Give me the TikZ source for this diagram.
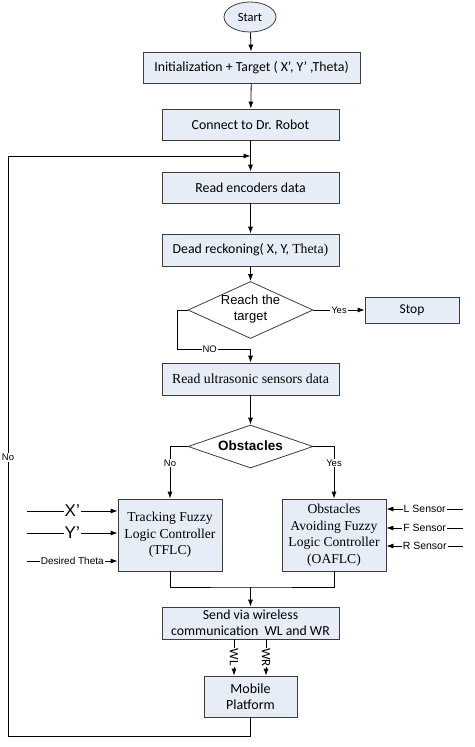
\documentclass[tikz,border=0pt]{standalone}
\usepackage{fontspec}
\setmainfont{Carlito}
\newfontfamily\tnr{Liberation Serif}
\newfontfamily\ari{Liberation Sans}
\usetikzlibrary{shapes.geometric,arrows.meta}
\definecolor{boxfill}{RGB}{231,237,247}
\definecolor{edge}{RGB}{60,60,60}
\begin{document}
\begin{tikzpicture}[x=1pt,y=-1pt,
  box/.style={draw=edge, fill=boxfill, line width=0.8pt, inner sep=0pt, align=center,
              font=\fontsize{13.8}{16}\selectfont},
  serifbox/.style={box, font=\tnr\fontsize{13.6}{16.5}\selectfont},
  dia/.style={diamond, draw=edge, fill=white, line width=0.8pt, inner sep=0pt},
  arr/.style={-{Latex[length=7pt,width=5pt]}, line width=0.8pt, draw=black},
  ln/.style={line width=0.8pt, draw=black},
  lbl/.style={fill=white, inner sep=1pt, font=\ari\fontsize{9.5}{10}\selectfont},
  slbl/.style={fill=white, inner sep=1pt, font=\ari\fontsize{10.5}{12}\selectfont},
  blbl/.style={fill=white, inner sep=1pt, font=\ari\fontsize{17}{18}\selectfont}
]
\useasboundingbox (0,0) rectangle (474,747);

\node[ellipse, draw=edge, fill=boxfill, line width=0.8pt, minimum width=52, minimum height=30, inner sep=0pt,
      font=\fontsize{12.5}{14}\selectfont] (start) at (250,17) {Start};
\node[box, minimum width=217, minimum height=31] (init) at (251.5,67.5) {Initialization + Target ( X’, Y’ ,Theta)};
\node[box, minimum width=177, minimum height=31] (conn) at (250.5,124.5) {Connect to Dr. Robot};
\node[box, minimum width=177, minimum height=31] (enc) at (250.5,187.5) {Read encoders data};
\node[box, minimum width=177, minimum height=32] (dead) at (250.5,250) {Dead reckoning( X, Y, {\tnr Theta)}};
\node[dia, minimum width=125, minimum height=57] (reach) at (250.5,310) {};
\node[align=center, font=\ari\fontsize{13}{16}\selectfont] (reacht) at (250.5,309) {Reach the\\target};
\node[box, minimum width=94, minimum height=26, font=\fontsize{13.5}{15}\selectfont] (stop) at (412,310) {Stop};
\node[box, minimum width=177, minimum height=32, font=\tnr\fontsize{13.8}{15}\selectfont] (ultra) at (250.5,379) {Read ultrasonic sensors data};
\node[dia, minimum width=125, minimum height=43] (obst) at (250.5,446.5) {};
\node[font=\ari\bfseries\fontsize{13.5}{15}\selectfont] (obstt) at (250.5,446) {Obstacles};
\node[serifbox, minimum width=104, minimum height=72] (tflc) at (170,535) {Tracking Fuzzy\\Logic Controller\\(TFLC)};
\node[serifbox, minimum width=104, minimum height=72] (oaflc) at (334,535) {Obstacles\\Avoiding Fuzzy\\Logic Controller\\(OAFLC)};
\node[box, minimum width=177, minimum height=32, font=\fontsize{13.8}{16}\selectfont] (send) at (250.5,623) {Send via wireless\\communication\ \ WL and WR};
\node[box, minimum width=93, minimum height=41, font=\fontsize{14}{16}\selectfont] (mob) at (250.5,696.5) {Mobile\\Platform};

\coordinate (loop) at (250.5,156);
\coordinate (nojoin) at (250.5,349);
\coordinate (merge) at (250.5,587);
\coordinate (botl) at (8,736);
\coordinate (xin) at (27,511);
\coordinate (yin) at (27,533);
\coordinate (thin) at (27,561);
\coordinate (lin) at (463,509);
\coordinate (fin) at (463,528);
\coordinate (rin) at (463,546);

\draw[arr] (start) -- (init);
\draw[arr] (init) -- (conn);
\draw[arr] (conn) -- (enc);
\draw[arr] (enc) -- (dead);
\draw[arr] (dead) -- (reach);
\draw[arr] (reach) -- node[lbl]{Yes} (stop);
\draw[arr] (reach.west) -- ++(-10,0) |- node[lbl, pos=0.72]{NO} (nojoin) -- (ultra.north);
\draw[arr] (ultra) -- (obst);
\draw[arr] (obst.west) -| node[lbl, pos=0.66]{No} (tflc.north);
\draw[arr] (obst.east) -| node[lbl, pos=0.66]{Yes} (oaflc.north);
\draw[ln] (tflc.south) |- (merge) -| (oaflc.south);
\draw[arr] (merge) -- (send.north);
\draw[arr] (send.south -| 234,0) -- node[lbl, rotate=-90, font=\fontsize{13}{13}\selectfont, inner sep=0.5pt]{WL} (mob.north -| 234,0);
\draw[arr] (send.south -| 266,0) -- node[lbl, rotate=-90, font=\fontsize{13}{13}\selectfont, inner sep=0.5pt]{WR} (mob.north -| 266,0);
\draw[arr] (mob.south) |- (botl) -- node[lbl, pos=0.48]{No} (botl |- loop) -- (loop);

\draw[arr] (xin) -- node[blbl]{X’} (tflc.west |- xin);
\draw[arr] (yin) -- node[blbl]{Y’} (tflc.west |- yin);
\draw[arr] (thin) -- node[lbl, font=\ari\fontsize{10}{11}\selectfont]{Desired Theta} (tflc.west |- thin);
\draw[arr] (lin) -- node[slbl]{L Sensor} (oaflc.east |- lin);
\draw[arr] (fin) -- node[slbl]{F Sensor} (oaflc.east |- fin);
\draw[arr] (rin) -- node[slbl]{R Sensor} (oaflc.east |- rin);
\end{tikzpicture}
\end{document}
